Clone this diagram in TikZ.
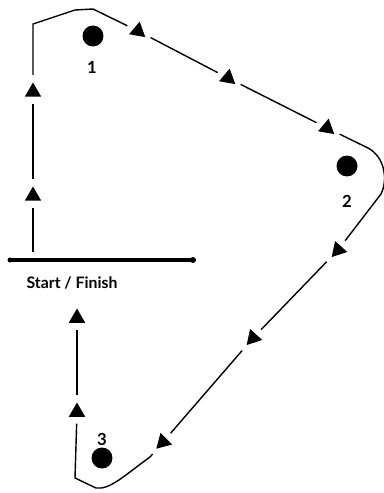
\documentclass[tikz,border=0pt]{standalone}
\usepackage{fontspec}
\setmainfont{Lato}
\usetikzlibrary{shapes.geometric}

\begin{document}
\begin{tikzpicture}[x=0.02cm, y=-0.02cm, line width=0.8pt,
  tri/.style={regular polygon, regular polygon sides=3, fill, inner sep=0pt, minimum size=0.38cm},
  cone/.style={circle, fill, inner sep=0pt, minimum size=0.42cm},
  lbl/.style={font=\fontsize{9.5}{11}\selectfont\bfseries},
  gap/.style={shorten <=3.5pt, shorten >=3.5pt}]
  \useasboundingbox (0,0) rectangle (383,493);

  % cones and their numbers
  \node[cone] (c1) at (93,36) {};
  \node[cone] (c2) at (347,166) {};
  \node[cone] (c3) at (102,458) {};
  \node[lbl] (n1) at (92,67) {1};
  \node[lbl] (n2) at (347,201) {2};
  \node[lbl] (n3) at (102,439) {3};

  % start / finish line
  \coordinate (sl) at (10,260);
  \coordinate (sr) at (193,260);
  \draw[line width=1.8pt] (sl) -- (sr);
  \fill (sl) circle (2.5);
  \fill (sr) circle (3);
  \node[lbl, font=\fontsize{9}{11}\selectfont\bfseries] (start) at (72,283) {Start / Finish};

  % arrows along the route
  \node[tri] (a1) at (33,196) {};
  \node[tri] (a2) at (33,92) {};
  \node[tri, rotate=-10] (a3) at (138,31) {};
  \node[tri, rotate=-10] (a4) at (228,78) {};
  \node[tri, rotate=-10] (a5) at (327,128) {};
  \node[tri, rotate=138] (a6) at (338,250) {};
  \node[tri, rotate=138] (a7) at (253,338) {};
  \node[tri, rotate=135] (a8) at (163,442) {};
  \node[tri] (a9) at (77,412) {};
  \node[tri] (a10) at (77,318) {};

  % corners of the route
  \coordinate (s0) at (33,252);
  \coordinate (tl) at (33,24);
  \coordinate (t1) at (75,10);
  \coordinate (t2) at (93,9);
  \coordinate (r1) at (368,148);
  \coordinate (r2) at (381,194);
  \coordinate (b1) at (150,457);
  \coordinate (b2) at (96,488);
  \coordinate (b3) at (75,478);

  \draw[shorten >=3.5pt] (s0) -- (a1);
  \draw[gap] (a1) -- (a2);
  \draw[gap] (a2) -- (tl) -- (t1) -- (t2) -- (a3);
  \draw[gap] (a3) -- (a4);
  \draw[gap] (a4) -- (a5);
  \draw[gap] (a5) -- (r1) .. controls (385,157) and (388,180) .. (r2) -- (a6);
  \draw[gap] (a6) -- (a7);
  \draw[gap] (a7) -- (a8);
  \draw[gap] (a8) -- (b1) .. controls (125,475) and (110,490) .. (b2) -- (b3) -- (a9);
  \draw[gap] (a9) -- (a10);
\end{tikzpicture}
\end{document}
